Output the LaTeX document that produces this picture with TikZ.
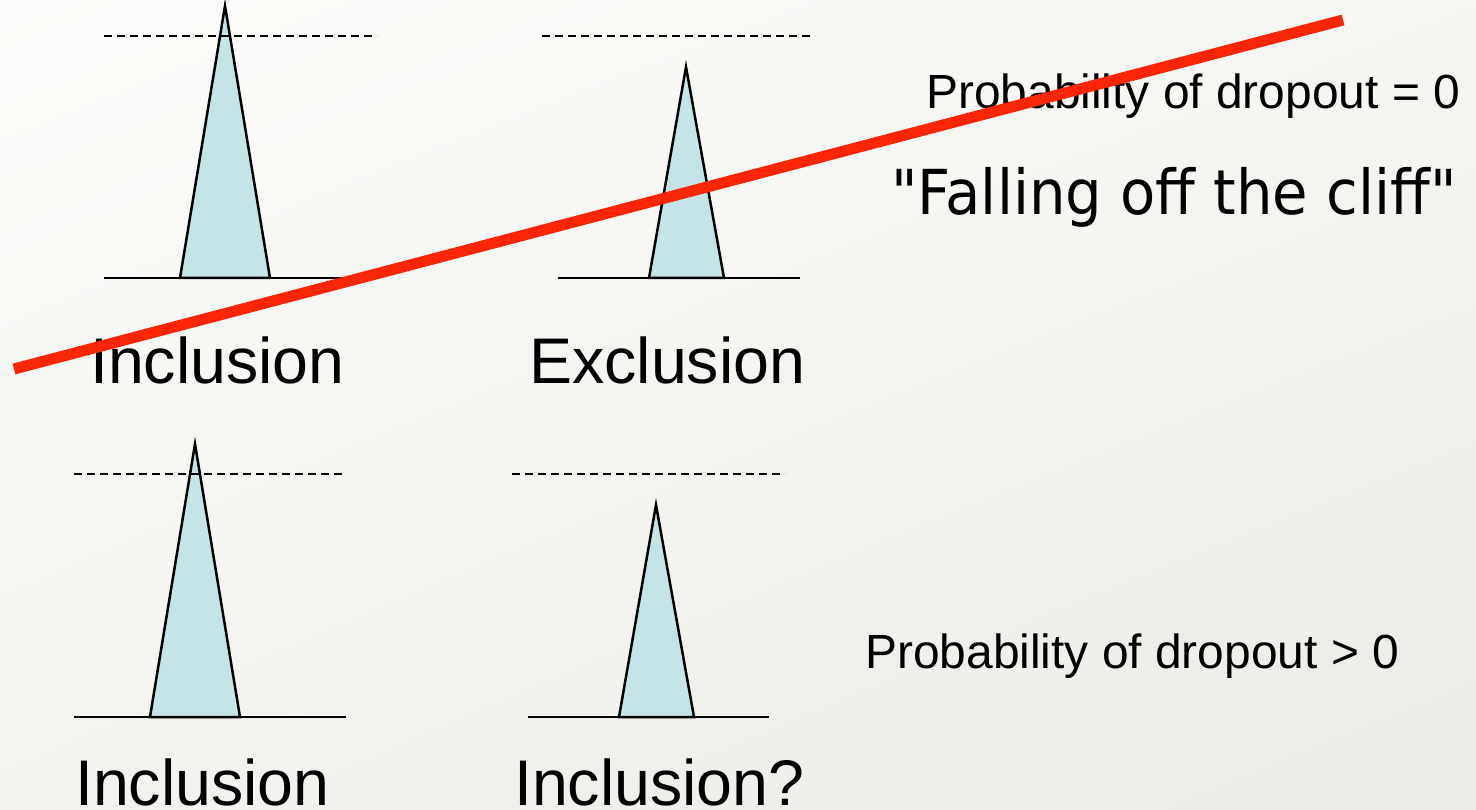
\documentclass[tikz,border=0pt]{standalone}
\usepackage{fontspec}
\usetikzlibrary{shadings}
\setmainfont{Liberation Sans}
\newfontfamily\clifffont[FakeStretch=0.93]{DejaVu Sans}
\definecolor{bgA}{RGB}{252,252,250}
\definecolor{bgB}{RGB}{236,236,230}
\definecolor{peak}{RGB}{197,228,231}
\definecolor{cliffred}{RGB}{250,38,5}
\begin{document}
\begin{tikzpicture}[x=1pt,y=-1pt,
  tri/.style={fill=peak,draw=black,line width=2.5pt,line join=miter},
  axis/.style={draw=black,line width=2.5pt},
  ref/.style={draw=black,line width=2.2pt,dash pattern=on 8pt off 5pt},
  biglabel/.style={inner sep=0pt,anchor=base west,font=\fontsize{64.5}{72}\selectfont},
  problabel/.style={inner sep=0pt,anchor=base west,font=\fontsize{47.9}{54}\selectfont},
  slash/.style={draw=cliffred,line width=11pt}]
\useasboundingbox (0,0) rectangle (1476,810);
\shade[upper left=bgA,upper right=bgA!60!bgB,lower left=bgA!45!bgB,lower right=bgB] (0,0) rectangle (1476,810);

% top-left panel
\draw[axis] (104,278) -- (376,278);
\coordinate (tlA) at (225,6);
\coordinate (tlL) at (180,278);
\coordinate (tlR) at (270,278);
\draw[tri] (tlL) -- (tlA) -- (tlR) -- cycle;
\draw[ref] (104,36) -- (377,36);

% top-right panel
\draw[ref] (542,36) -- (815,36);
\draw[axis] (558,278) -- (800,278);
\coordinate (trA) at (686,67);
\coordinate (trL) at (649,278);
\coordinate (trR) at (724,278);
\draw[tri] (trL) -- (trA) -- (trR) -- cycle;

% bottom-left panel
\draw[axis] (74,717) -- (346,717);
\coordinate (blA) at (195,444);
\coordinate (blL) at (150,717);
\coordinate (blR) at (240,717);
\draw[tri] (blL) -- (blA) -- (blR) -- cycle;
\draw[ref] (74,474) -- (346,474);

% bottom-right panel
\draw[ref] (512,474) -- (785,474);
\draw[axis] (528,717) -- (769,717);
\coordinate (brA) at (656,505);
\coordinate (brL) at (619,717);
\coordinate (brR) at (694,717);
\draw[tri] (brL) -- (brA) -- (brR) -- cycle;

% labels
\node[biglabel] (inc1) at (90,384) {Inclusion};
\node[biglabel] (exc) at (529,384) {Exclusion};
\node[biglabel] (inc2) at (75,805) {Inclusion};
\node[biglabel] (inc3) at (514,805) {Inclusion?};
\node[problabel] (p0) at (926,109) {Probability of dropout = 0};
\node[problabel] (p1) at (865,668) {Probability of dropout > 0};
\node[inner sep=0pt,anchor=base west,font=\clifffont\fontsize{62}{70}\selectfont] (cliff) at (891,215) {"Falling off the cliff"};

% red strike line
\coordinate (sA) at (14,369);
\coordinate (sB) at (1343,20);
\draw[slash] (sA) -- (sB);
\end{tikzpicture}
\end{document}
